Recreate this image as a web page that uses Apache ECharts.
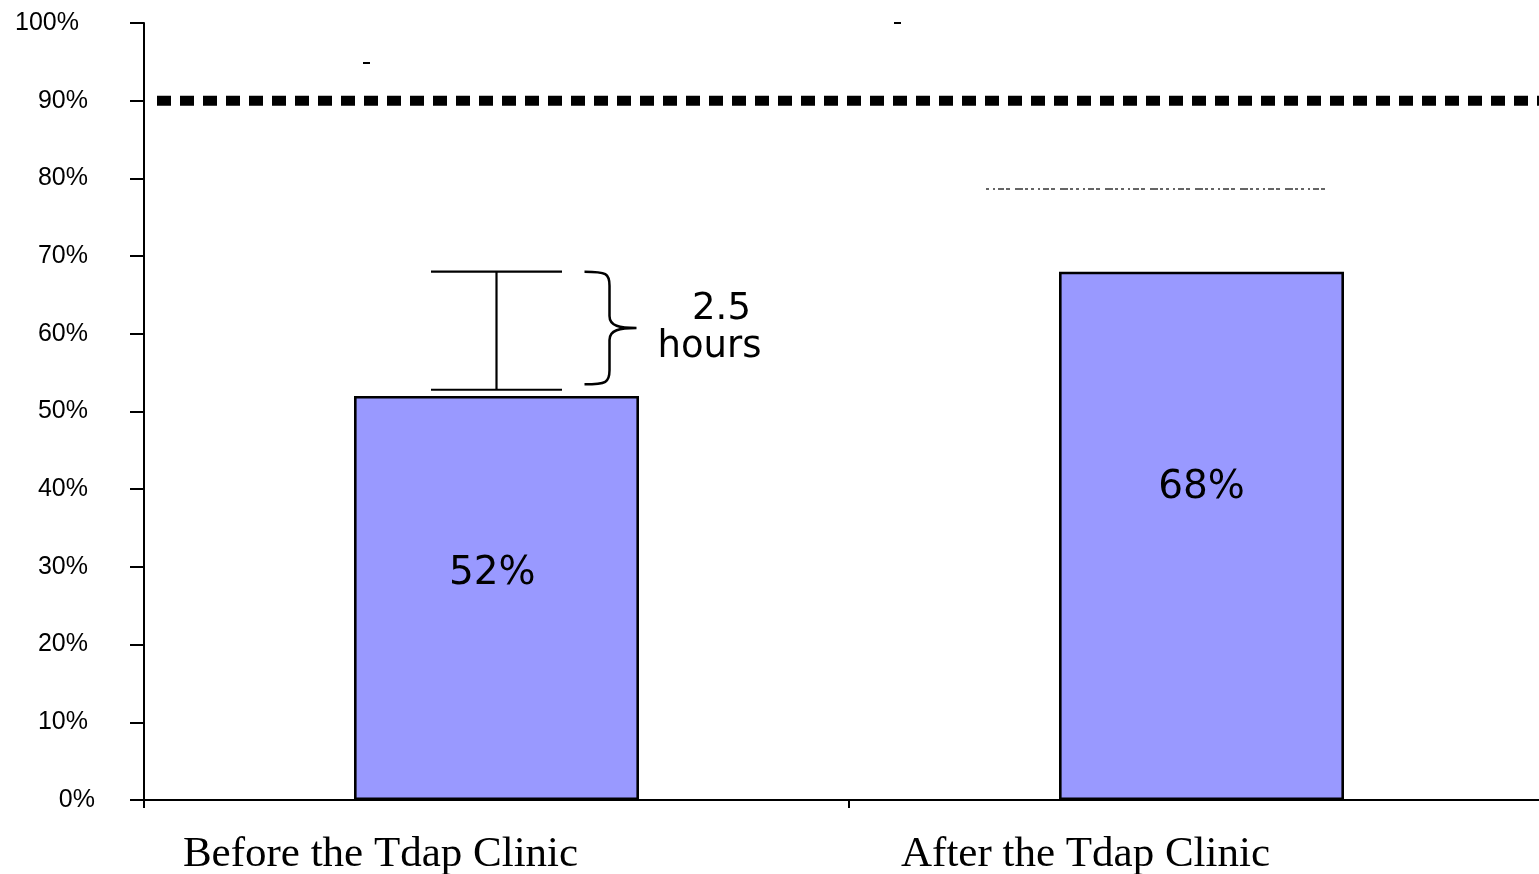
<!DOCTYPE html>
<html>
<head>
<meta charset="utf-8">
<script src="https://cdn.jsdelivr.net/npm/echarts@6/dist/echarts.min.js"></script>
<style>
html,body{margin:0;padding:0;background:#fff;}
#chart{width:1539px;height:874px;}
</style>
</head>
<body>
<div id="chart"></div>
<script>
// ---- data ----
const categories = ['Before the Tdap Clinic', 'After the Tdap Clinic'];
const percentValues = [52, 68];
const yTickLabels = ['0%', '10%', '20%', '30%', '40%', '50%', '60%', '70%', '80%', '90%', '100%'];
const targetValues = [90];
const gapCategoryIndex = [0];
const gapLow = [52.8];
const gapHigh = [68];
const braceLow = [53.5];
const gapText = ['2.5', 'hours'];

// ---- styles ----
const barLabelPos = [['48.5%', '44%'], ['50%', '41%']];

const chart = echarts.init(document.getElementById('chart'));

function yLabelFormatter(v) {
  const s = yTickLabels[Math.round(v / 10)];
  if (s === '0%') return '{z|' + s + '}';
  if (s === '100%') return '{h|' + s + '}';
  return '{n|' + s + '}';
}

const yFont = { color: '#000', fontFamily: 'Liberation Sans', fontSize: 25 };

const option = {
  animation: false,
  backgroundColor: '#fff',
  grid: { left: 144, width: 1410, top: 23, bottom: 74, containLabel: false, outerBoundsMode: 'none' },
  xAxis: {
    type: 'category',
    data: categories,
    boundaryGap: true,
    axisLine: { lineStyle: { color: '#000', width: 2 } },
    axisTick: { show: true, length: 8, alignWithLabel: false, lineStyle: { color: '#000', width: 2 } },
    axisLabel: {
      color: '#000', fontFamily: 'Liberation Serif', fontSize: 43, margin: 33,
      padding: [0, 232, 0, 0], interval: 0
    }
  },
  yAxis: {
    type: 'value', min: 0, max: 100, interval: 10,
    splitLine: { show: false },
    axisLine: { show: true, lineStyle: { color: '#000', width: 2 } },
    axisTick: { show: true, length: 14, lineStyle: { color: '#000', width: 2 } },
    axisLabel: {
      margin: 49,
      formatter: yLabelFormatter,
      rich: {
        z: Object.assign({ padding: [0, 0, 0, 0] }, yFont),
        n: Object.assign({ padding: [0, 7, 0, 0] }, yFont),
        h: Object.assign({ padding: [0, 16, 0, 0] }, yFont)
      }
    }
  },
  series: [
    {
      type: 'bar',
      barWidth: 285,
      data: percentValues.map((v, i) => ({
        value: v,
        label: { position: barLabelPos[i] }
      })),
      itemStyle: { color: '#9999FF', borderColor: '#000', borderWidth: 2.6 },
      label: {
        show: true, align: 'center', verticalAlign: 'middle',
        formatter: '{c}%', color: '#000', fontFamily: 'DejaVu Sans', fontSize: 39
      },
      z: 2
    },
    {
      type: 'custom',
      data: targetValues.map(v => [0, v]),
      renderItem: function (params, api) {
        const y = api.coord([0, api.value(1)])[1];
        const cs = params.coordSys;
        return {
          type: 'line',
          shape: { x1: cs.x + 13, y1: y, x2: cs.x + cs.width, y2: y },
          style: { stroke: '#000', lineWidth: 10, lineDash: [14, 9], lineCap: 'butt' }
        };
      },
      z: 3
    },
    {
      type: 'custom',
      data: gapCategoryIndex.map((c, i) => [c, gapLow[i], gapHigh[i], braceLow[i]]),
      renderItem: function (params, api) {
        const c = api.value(0);
        const top = api.coord([c, api.value(2)]);
        const bot = api.coord([c, api.value(1)]);
        const bb = api.coord([c, api.value(3)]);
        const x = top[0];
        const hw = 65.5;
        const t = top[1], b = bot[1];
        const bx = x + 88, sp = bx + 25, tip = bx + 52;
        const bt = t, bbt = bb[1];
        const m = (bt + bbt) / 2;
        const path =
          'M' + bx + ',' + bt +
          ' C' + (bx + 22) + ',' + bt + ' ' + sp + ',' + (bt + 2) + ' ' + sp + ',' + (bt + 14) +
          ' L' + sp + ',' + (m - 12) +
          ' C' + sp + ',' + (m - 2) + ' ' + (sp + 10) + ',' + m + ' ' + tip + ',' + m +
          ' C' + (sp + 10) + ',' + m + ' ' + sp + ',' + (m + 2) + ' ' + sp + ',' + (m + 12) +
          ' L' + sp + ',' + (bbt - 14) +
          ' C' + sp + ',' + (bbt - 2) + ' ' + (bx + 22) + ',' + bbt + ' ' + bx + ',' + bbt;
        const ls = { stroke: '#000', lineWidth: 2.2, fill: null };
        return {
          type: 'group',
          children: [
            { type: 'line', shape: { x1: x - hw, y1: t, x2: x + hw, y2: t }, style: ls },
            { type: 'line', shape: { x1: x - hw, y1: b, x2: x + hw, y2: b }, style: ls },
            { type: 'line', shape: { x1: x, y1: t, x2: x, y2: b }, style: ls },
            { type: 'path', shape: { pathData: path }, style: { stroke: '#000', lineWidth: 2.5, fill: null } },
            { type: 'text', style: { text: gapText[0], x: tip + 85, y: m - 19, align: 'center', verticalAlign: 'middle',
                fill: '#000', fontFamily: 'DejaVu Sans', fontSize: 37 } },
            { type: 'text', style: { text: gapText[1], x: tip + 73, y: m + 19, align: 'center', verticalAlign: 'middle',
                fill: '#000', fontFamily: 'DejaVu Sans', fontSize: 37 } }
          ]
        };
      },
      z: 4
    }
  ],
  graphic: [
    { type: 'rect', shape: { x: 363, y: 62, width: 7, height: 2 }, style: { fill: '#000' } },
    { type: 'rect', shape: { x: 894, y: 22, width: 7, height: 2 }, style: { fill: '#000' } },
    { type: 'line', shape: { x1: 986, y1: 189, x2: 1329, y2: 189 },
      style: { stroke: '#333', lineWidth: 1.5, lineDash: [3, 4, 2, 3, 6, 2, 4, 5, 8, 2, 3, 3] } }
  ]
};

chart.setOption(option);
</script>
</body>
</html>
